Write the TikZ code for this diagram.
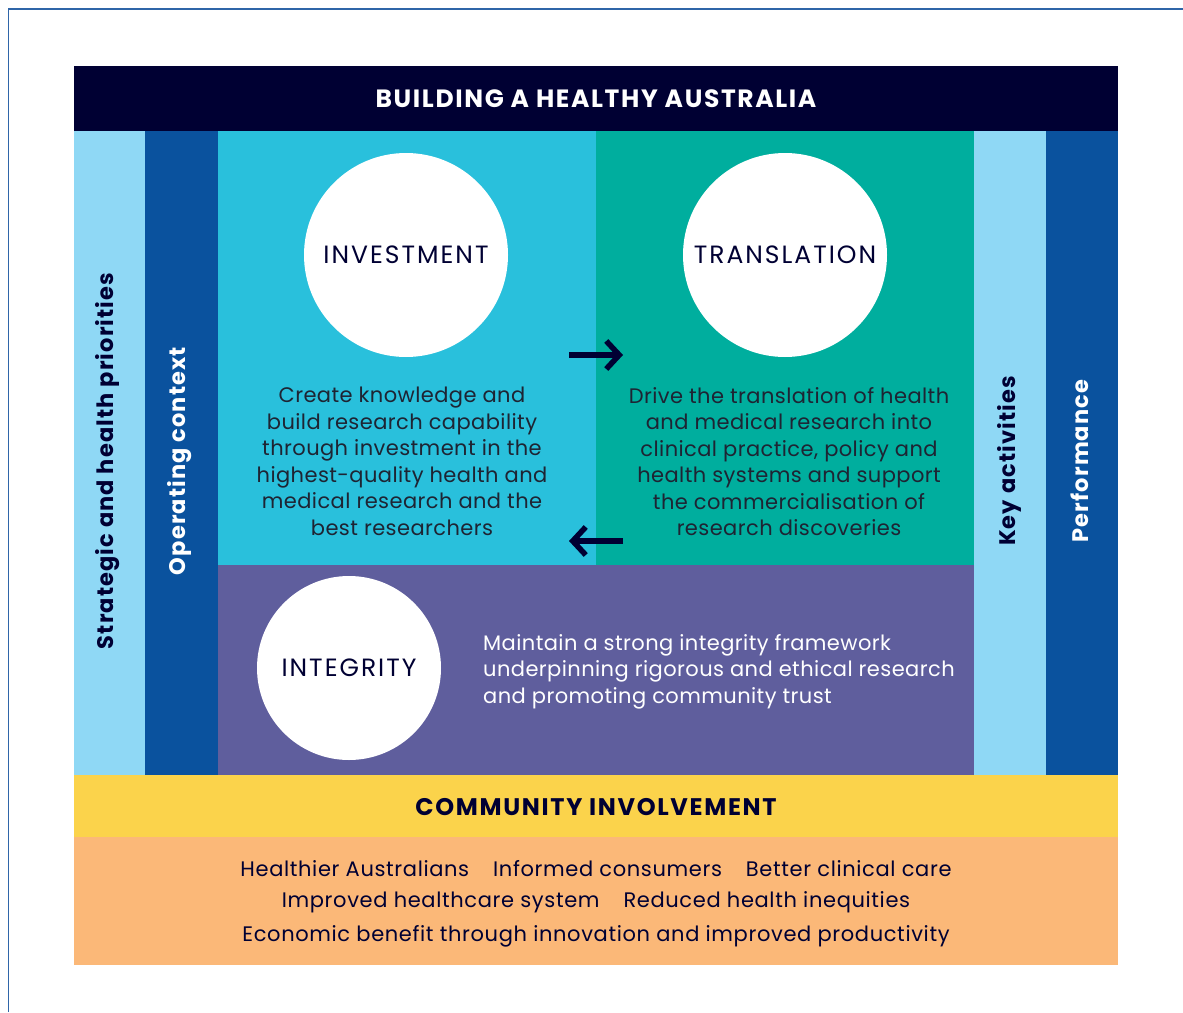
\documentclass[tikz,border=0pt]{standalone}
\usepackage{fontspec}
\setmainfont{Poppins}
\usetikzlibrary{arrows.meta}
\definecolor{navy}{HTML}{000033}
\definecolor{lightblue}{HTML}{8FD8F5}
\definecolor{darkblue}{HTML}{0A529E}
\definecolor{invest}{HTML}{29C0DC}
\definecolor{transl}{HTML}{00AE9E}
\definecolor{integ}{HTML}{5F5E9D}
\definecolor{commy}{HTML}{FBD34B}
\definecolor{outc}{HTML}{FBB878}
\definecolor{framec}{HTML}{2F65A8}
\definecolor{bodytext}{HTML}{1E2433}
\newcommand{\lsp}[1]{\addfontfeatures{LetterSpace=#1}}
\tikzset{
  panel/.style={draw=none,inner sep=0pt,outer sep=0pt},
  circ/.style={circle,fill=white,draw=none,text=navy,inner sep=0pt,font=\fontsize{25}{30}\selectfont\lsp{8}},
  bodytxt/.style={align=center,text=bodytext,font=\fontsize{21}{26.5}\selectfont\lsp{2},inner sep=0pt},
  vlabel/.style={rotate=90,font=\bfseries\fontsize{22.5}{26}\selectfont\lsp{5},inner sep=0pt},
  outtxt/.style={text=navy,font=\fontsize{21}{25}\selectfont\lsp{3},inner sep=0pt},
  flowarrow/.style={draw=navy,line width=5.5pt,-{Straight Barb[length=13pt,width=28pt,line width=5.5pt]}},
}
\begin{document}
\begin{tikzpicture}[x=1pt,y=-1pt]
\useasboundingbox (0,0) rectangle (1183,1012);
\fill[white] (0,0) rectangle (1183,1012);
% frame lines
\draw[framec,line width=1.6pt] (8.5,1012) -- (8.5,9) -- (1183,9);
% panels
\fill[navy] (74,66) rectangle (1118,131);
\fill[lightblue] (74,131) rectangle (145,775);
\fill[darkblue] (145,131) rectangle (218,775);
\fill[invest] (218,131) rectangle (596,565);
\fill[transl] (596,131) rectangle (974,565);
\fill[integ] (218,565) rectangle (974,775);
\fill[lightblue] (974,131) rectangle (1046,775);
\fill[darkblue] (1046,131) rectangle (1118,775);
\fill[commy] (74,775) rectangle (1118,837);
\fill[outc] (74,837) rectangle (1118,965);
% title
\node[text=white,inner sep=0pt,font=\bfseries\fontsize{25}{30}\selectfont\lsp{6.5}] (title) at (596,98.5) {BUILDING A HEALTHY AUSTRALIA};
\node[text=navy,inner sep=0pt,font=\bfseries\fontsize{24}{30}\selectfont\lsp{7}] (community) at (596,807.5) {COMMUNITY INVOLVEMENT};
% vertical labels
\node[vlabel,text=navy] (strat) at (108,461) {Strategic and health priorities};
\node[vlabel,text=white] (opctx) at (180,461) {Operating context};
\node[vlabel,text=navy] (keyact) at (1009,461) {Key activities};
\node[vlabel,text=white] (perf) at (1080,461) {Performance};
% circles
\node[circ,minimum size=204pt] (investment) at (406,255) {INVESTMENT};
\node[circ,minimum size=204pt] (translation) at (785,255) {TRANSLATION};
\node[circ,minimum size=184pt] (integrity) at (349,668) {INTEGRITY};
% body text
\node[bodytxt] (investtxt) at (402,461.5) {Create knowledge and\\build research capability\\through investment in the\\highest-quality health and\\medical research and the\\best researchers};
\node[bodytxt] (transtxt) at (789,461.5) {Drive the translation of health\\and medical research into\\clinical practice, policy and\\health systems and support\\the commercialisation of\\research discoveries};
\node[bodytxt,align=left,text=white,anchor=west] (integtxt) at (483,671.5) {Maintain a strong integrity framework\\underpinning rigorous and ethical research\\and promoting community trust};
% outcomes
\node[outtxt] (out1) at (596,869) {Healthier Australians\hspace{24pt}Informed consumers\hspace{24pt}Better clinical care};
\node[outtxt] (out2) at (596,902) {Improved healthcare system\hspace{24pt}Reduced health inequities};
\node[outtxt] (out3) at (596,936) {Economic benefit through innovation and improved productivity};
% arrows
\coordinate (a1s) at (569,355);
\coordinate (a1e) at (623,355);
\coordinate (a2s) at (623,541);
\coordinate (a2e) at (569,541);
\draw[flowarrow] (a1s) -- (a1e);
\draw[flowarrow] (a2s) -- (a2e);
\end{tikzpicture}
\end{document}
